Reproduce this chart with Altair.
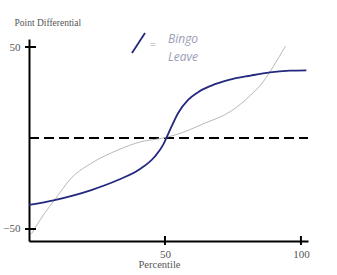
import altair as alt
import pandas as pd

# Bingo (blue) curve
bingo_x = [0, 9.4, 22.9, 32.7, 40.7, 46.2, 49.3, 50.5, 52.4, 54.8, 58.5, 62.2, 67.1, 73.5, 81.5, 88.6, 95.9, 102]
bingo_y = [-36.8, -34.1, -28.6, -23.1, -17.2, -10.3, -3.8, 0, 6.2, 13.6, 20.9, 25.2, 28.8, 31.9, 34.3, 36.1, 37, 37.2]

# Leave (gray) curve
leave_x = [0.9, 5.7, 9.4, 15.5, 22.9, 32.7, 41.3, 48.7, 53.6, 64.6, 74, 81.5, 86.1, 89.8, 94.3]
leave_y = [-52.7, -41.4, -34.1, -22.1, -13.9, -6.6, -2, -0.2, 1.6, 8.1, 14.5, 23.5, 30.9, 39.2, 50.5]

y_ticks = [50, -50]
x_ticks = [50, 100]

X_DOMAIN = [0, 102.6]
Y_DOMAIN = [-56.6, 54.4]
W, H = 279, 202
SERIF = "Liberation Serif"
LABEL_COLOR = "#555555"

bingo = pd.DataFrame({"x": bingo_x, "y": bingo_y})
leave = pd.DataFrame({"x": leave_x, "y": leave_y})

xs = alt.Scale(domain=X_DOMAIN, nice=False, zero=False)
ys = alt.Scale(domain=Y_DOMAIN, nice=False, zero=False)

x_axis = alt.Axis(values=x_ticks, ticks=False, domain=True, domainColor="black",
                  domainWidth=2, grid=False, labelFont=SERIF, labelFontSize=11,
                  labelColor=LABEL_COLOR, labelPadding=7, title="Percentile",
                  titleFont=SERIF, titleFontSize=10.5, titleFontWeight="normal",
                  titleColor=LABEL_COLOR, titleX=130, titleY=26,
                  titleBaseline="alphabetic")
y_axis = alt.Axis(values=y_ticks, ticks=False, domain=True, domainColor="black",
                  domainWidth=2, grid=False, labelFont=SERIF, labelFontSize=11,
                  labelColor=LABEL_COLOR, labelPadding=9,
                  title="Point Differential", titleAngle=0, titleAlign="left",
                  titleX=-15, titleY=-14, titleBaseline="alphabetic",
                  titleFont=SERIF, titleFontSize=9.5, titleFontWeight="normal",
                  titleColor=LABEL_COLOR)

leave_line = alt.Chart(leave).mark_line(
    interpolate="monotone", color="#b8b8b8", strokeWidth=1
).encode(x=alt.X("x:Q", scale=xs, axis=x_axis), y=alt.Y("y:Q", scale=ys, axis=y_axis))

bingo_line = alt.Chart(bingo).mark_line(
    interpolate="monotone", color="#22297e", strokeWidth=1.8
).encode(x=alt.X("x:Q", scale=xs), y=alt.Y("y:Q", scale=ys))

zero_line = alt.Chart(pd.DataFrame({"y": [0]})).mark_rule(
    color="black", strokeWidth=2, strokeDash=[10, 5]
).encode(y=alt.Y("y:Q", scale=ys), x=alt.value(0), x2=alt.value(W))

ytick_marks = alt.Chart(pd.DataFrame({"y": y_ticks})).mark_rule(
    color="black", strokeWidth=2
).encode(y=alt.Y("y:Q", scale=ys), x=alt.value(-4), x2=alt.value(7))

xtick_marks = alt.Chart(pd.DataFrame({"x": x_ticks})).mark_rule(
    color="black", strokeWidth=2
).encode(x=alt.X("x:Q", scale=xs), y=alt.value(H - 5), y2=alt.value(H + 4))

legend_stroke = alt.Chart(pd.DataFrame({"a": [0]})).mark_rule(
    color="#22297e", strokeWidth=1.8
).encode(x=alt.value(116), x2=alt.value(103), y=alt.value(-6), y2=alt.value(14))

legend_eq = alt.Chart(pd.DataFrame({"t": ["="]})).mark_text(
    font="Open Sans", fontSize=10, color="#a0a4b8", align="left"
).encode(text="t:N", x=alt.value(121), y=alt.value(6))

legend_text = alt.Chart(pd.DataFrame({"t": ["Bingo", "Leave"], "yy": [0, 18]})).mark_text(
    font="Open Sans", fontSize=12, fontStyle="italic", color="#9a9eb6",
    align="left", baseline="middle"
).encode(text="t:N", x=alt.value(139), y=alt.Y("yy:Q", scale=None))

chart = alt.layer(
    zero_line, leave_line, bingo_line, ytick_marks, xtick_marks,
    legend_stroke, legend_eq, legend_text
).properties(
    width=W, height=H, background="white",
    autosize=alt.AutoSizeParams(type="none"),
    padding={"left": 29, "top": 39, "right": 29, "bottom": 34},
).configure_view(stroke=None)

chart.save("out.html", embed_options={"renderer": "svg", "actions": False})
